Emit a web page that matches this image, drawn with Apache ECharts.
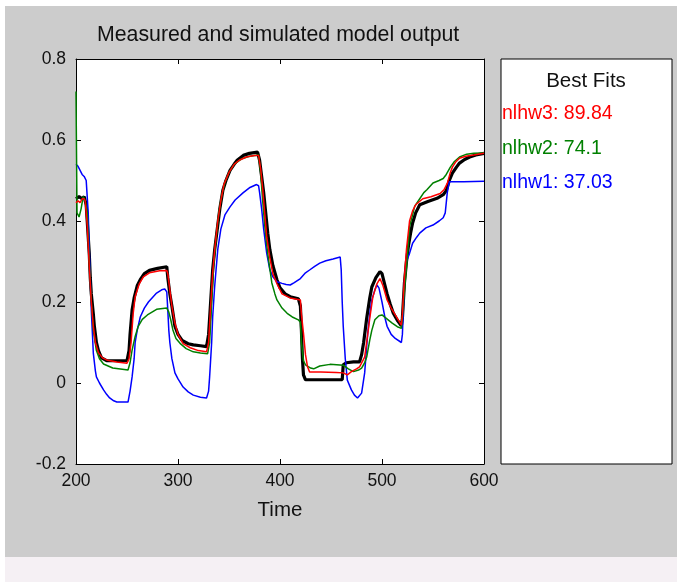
<!DOCTYPE html>
<html>
<head>
<meta charset="utf-8">
<script src="https://cdn.jsdelivr.net/npm/echarts@6/dist/echarts.min.js"></script>
<style>
  html, body { margin: 0; padding: 0; width: 677px; height: 582px; background: #ffffff; overflow: hidden; }
  #gray { position: absolute; left: 5px; top: 6px; width: 672px; height: 551px; background: #cccccc; }
  #pink { position: absolute; left: 5px; top: 557px; width: 672px; height: 25px; background: #f5f0f4; }
  #chart { position: absolute; left: 0; top: 0; width: 677px; height: 582px; }
</style>
</head>
<body>
<div id="gray"></div>
<div id="pink"></div>
<div id="chart"></div>
<script>
// ---- data ----
const titleText = 'Measured and simulated model output';
const xAxisName = 'Time';
const legendTitle = 'Best Fits';
const seriesNames = ['nlhw3: 89.84', 'nlhw2: 74.1', 'nlhw1: 37.03'];
const xTicks = [200, 300, 400, 500, 600];
const yTicks = [-0.2, 0, 0.2, 0.4, 0.6, 0.8];

const measured = [[200,0.455],[203,0.46],[206,0.455],[208,0.46],[210,0.44],[211,0.40],[212,0.36],[213,0.32],[214,0.26],[215,0.22],[217,0.17],[218,0.14],[220,0.10],[222,0.08],[225,0.062],[230,0.055],[240,0.055],[250,0.055],[252,0.08],[253,0.12],[255,0.18],[257,0.21],[260,0.24],[263,0.255],[267,0.27],[272,0.278],[280,0.283],[289,0.287],[290,0.26],[292,0.22],[294,0.19],[297,0.14],[300,0.12],[304,0.105],[310,0.097],[315,0.094],[322,0.092],[328,0.09],[330,0.12],[332,0.2],[334,0.28],[336,0.33],[338,0.37],[341,0.43],[344,0.476],[347,0.50],[351,0.525],[355,0.54],[358,0.55],[364,0.562],[370,0.567],[378,0.57],[380,0.55],[382,0.51],[384,0.47],[386,0.42],[388,0.37],[390,0.33],[393,0.29],[397,0.255],[400,0.235],[405,0.22],[410,0.213],[418,0.208],[420,0.19],[421,0.13],[422,0.06],[423,0.02],[425,0.008],[440,0.008],[461,0.008],[462,0.045],[465,0.05],[472,0.052],[478,0.052],[480,0.07],[482,0.1],[485,0.16],[488,0.21],[490,0.237],[494,0.26],[498,0.275],[500,0.27],[503,0.24],[505,0.22],[508,0.195],[511,0.173],[515,0.155],[519,0.141],[520,0.16],[522,0.247],[524,0.3],[526,0.34],[528,0.37],[530,0.395],[533,0.42],[537,0.44],[545,0.448],[554,0.456],[560,0.465],[563,0.475],[566,0.5],[569,0.518],[573,0.533],[576,0.543],[581,0.552],[586,0.558],[592,0.563],[600,0.567]];

const nlhw3 = [[200,0.445],[202,0.45],[204,0.445],[206,0.455],[208,0.455],[209,0.45],[210,0.42],[211,0.39],[212,0.34],[213,0.29],[215,0.2],[217,0.14],[219,0.1],[222,0.075],[226,0.062],[230,0.057],[240,0.052],[250,0.049],[252,0.06],[254,0.1],[256,0.17],[258,0.213],[262,0.245],[266,0.262],[272,0.272],[282,0.277],[289,0.278],[290,0.27],[292,0.23],[294,0.19],[297,0.148],[300,0.12],[305,0.097],[312,0.087],[320,0.08],[328,0.077],[330,0.1],[332,0.19],[334,0.27],[336,0.33],[339,0.4],[342,0.45],[345,0.49],[350,0.52],[355,0.54],[360,0.55],[367,0.558],[375,0.562],[379,0.562],[381,0.53],[383,0.48],[385,0.42],[387,0.36],[390,0.31],[393,0.27],[397,0.245],[402,0.22],[410,0.21],[420,0.205],[421,0.17],[423,0.123],[425,0.07],[427,0.04],[429,0.027],[440,0.027],[455,0.026],[462,0.025],[466,0.02],[470,0.028],[475,0.035],[478,0.04],[483,0.064],[486,0.12],[488,0.16],[491,0.212],[495,0.245],[498,0.258],[501,0.24],[505,0.205],[509,0.185],[513,0.168],[519,0.143],[520,0.17],[522,0.262],[524,0.33],[527,0.4],[530,0.425],[533,0.44],[540,0.455],[548,0.46],[557,0.468],[561,0.478],[564,0.493],[567,0.52],[569,0.533],[572,0.545],[576,0.555],[582,0.56],[590,0.563],[600,0.567]];

const nlhw2 = [[200,0.72],[201,0.42],[203,0.41],[205,0.43],[207,0.46],[209,0.45],[211,0.42],[212,0.36],[213,0.30],[215,0.2],[217,0.13],[220,0.08],[223,0.06],[227,0.047],[236,0.037],[251,0.032],[253,0.05],[255,0.081],[258,0.115],[261,0.14],[265,0.157],[270,0.168],[279,0.182],[289,0.185],[291,0.175],[293,0.155],[295,0.131],[298,0.11],[302,0.098],[308,0.085],[315,0.077],[322,0.074],[329,0.072],[331,0.1],[333,0.2],[335,0.29],[337,0.35],[340,0.42],[343,0.465],[346,0.495],[350,0.52],[355,0.54],[362,0.553],[370,0.56],[379,0.563],[381,0.52],[383,0.45],[385,0.39],[387,0.34],[389,0.3],[392,0.247],[395,0.22],[397,0.205],[402,0.185],[407,0.172],[412,0.163],[418,0.156],[420,0.15],[421,0.1],[423,0.055],[425,0.045],[430,0.037],[433,0.035],[439,0.042],[449,0.046],[462,0.044],[467,0.035],[472,0.028],[477,0.032],[480,0.037],[483,0.05],[485,0.064],[488,0.106],[490,0.13],[493,0.156],[497,0.166],[500,0.168],[503,0.162],[506,0.156],[510,0.148],[515,0.139],[519,0.135],[520,0.16],[522,0.23],[524,0.287],[526,0.35],[527,0.386],[530,0.415],[532,0.436],[537,0.455],[541,0.47],[544,0.477],[550,0.494],[556,0.5],[560,0.505],[563,0.515],[567,0.533],[571,0.547],[576,0.558],[583,0.565],[590,0.567],[600,0.568]];

const nlhw1 = [[200,0.54],[202,0.535],[204,0.525],[206,0.515],[208,0.51],[210,0.5],[211,0.46],[212,0.42],[213,0.33],[214,0.26],[215,0.18],[217,0.073],[219,0.03],[220,0.015],[223,0.0],[227,-0.017],[230,-0.028],[233,-0.037],[237,-0.044],[240,-0.047],[251,-0.047],[253,-0.02],[255,0.015],[257,0.06],[258,0.1],[260,0.13],[263,0.163],[267,0.185],[271,0.2],[279,0.222],[284,0.23],[287,0.232],[289,0.225],[290,0.18],[291,0.13],[292,0.1],[294,0.06],[297,0.025],[300,0.01],[305,-0.01],[310,-0.022],[315,-0.03],[322,-0.035],[328,-0.037],[330,-0.02],[331,0.015],[333,0.1],[334,0.163],[336,0.24],[339,0.33],[342,0.38],[346,0.415],[351,0.435],[356,0.452],[364,0.47],[370,0.482],[377,0.49],[379,0.487],[380,0.47],[382,0.43],[384,0.38],[387,0.32],[390,0.28],[393,0.262],[397,0.25],[402,0.246],[406,0.243],[410,0.242],[414,0.248],[420,0.258],[425,0.272],[429,0.279],[434,0.288],[439,0.296],[445,0.302],[452,0.306],[459,0.311],[460,0.28],[461,0.2],[462,0.14],[464,0.06],[466,0.007],[470,-0.017],[473,-0.03],[476,-0.037],[480,-0.025],[483,0.025],[486,0.123],[488,0.17],[490,0.205],[493,0.23],[495,0.242],[497,0.235],[500,0.2],[503,0.16],[505,0.14],[509,0.12],[513,0.11],[519,0.1],[520,0.12],[522,0.25],[524,0.3],[527,0.32],[530,0.345],[534,0.36],[537,0.37],[543,0.383],[550,0.39],[556,0.4],[560,0.408],[562,0.42],[564,0.47],[566,0.497],[580,0.497],[600,0.498]];

// ---- chart ----
const FONT = 'Liberation Sans, Arial, sans-serif';
const colors = { measured: '#000000', nlhw3: '#ff0000', nlhw2: '#008000', nlhw1: '#0000ff' };
const chart = echarts.init(document.getElementById('chart'), null, { renderer: 'canvas' });

function yFmt(v) {
  const r = Math.round(v * 10) / 10;
  return r === 0 ? '0' : r.toFixed(1);
}
const axisLineStyle = { show: true, onZero: false, lineStyle: { color: '#000', width: 1 } };
const tickStyle = { show: true, inside: true, length: 5, lineStyle: { color: '#000', width: 1 } };

const option = {
  backgroundColor: 'transparent',
  animation: false,
  title: {
    text: titleText,
    left: 92, top: 19.5,
    padding: 5,
    textStyle: { fontFamily: FONT, fontSize: 21.3, fontWeight: 'normal', color: '#111' }
  },
  grid: { left: 76, top: 59, width: 408, height: 405, show: true, backgroundColor: '#ffffff', borderWidth: 0 },
  legend: {
    orient: 'vertical', left: 492, top: 98, padding: 5,
    icon: 'none', itemWidth: 0, itemHeight: 22, itemGap: 12.5,
    selectedMode: false,
    textStyle: { fontFamily: FONT, fontSize: 19.5, lineHeight: 22 },
    data: [
      { name: seriesNames[0], textStyle: { color: colors.nlhw3 } },
      { name: seriesNames[1], textStyle: { color: colors.nlhw2 } },
      { name: seriesNames[2], textStyle: { color: colors.nlhw1 } }
    ]
  },
  graphic: [
    { type: 'rect', z: -1, shape: { x: 501, y: 59, width: 171, height: 405 },
      style: { fill: '#ffffff', stroke: '#000000', lineWidth: 1 } },
    { type: 'text', x: 586, y: 81, style: { text: legendTitle, fontFamily: FONT, fontSize: 20.5,
      fill: '#111', align: 'center', verticalAlign: 'middle' } }
  ],
  xAxis: [
    { type: 'value', min: xTicks[0], max: xTicks[xTicks.length - 1], interval: 100, position: 'bottom',
      axisLine: axisLineStyle, axisTick: tickStyle, splitLine: { show: false },
      axisLabel: { color: '#111', fontFamily: FONT, fontSize: 17.5, margin: 8 },
      name: xAxisName, nameLocation: 'middle', nameGap: 36,
      nameTextStyle: { color: '#111', fontFamily: FONT, fontSize: 20.5 } },
    { type: 'value', min: xTicks[0], max: xTicks[xTicks.length - 1], interval: 100, position: 'top',
      axisLine: axisLineStyle, axisTick: tickStyle, splitLine: { show: false }, axisLabel: { show: false } }
  ],
  yAxis: [
    { type: 'value', min: yTicks[0], max: yTicks[yTicks.length - 1], interval: 0.2, position: 'left',
      axisLine: axisLineStyle, axisTick: tickStyle, splitLine: { show: false },
      axisLabel: { color: '#111', fontFamily: FONT, fontSize: 17.5, margin: 10, formatter: yFmt } },
    { type: 'value', min: yTicks[0], max: yTicks[yTicks.length - 1], interval: 0.2, position: 'right',
      axisLine: axisLineStyle, axisTick: tickStyle, splitLine: { show: false }, axisLabel: { show: false } }
  ],
  series: [
    { name: 'Measured', type: 'line', data: measured, showSymbol: false, symbol: 'none',
      lineStyle: { color: colors.measured, width: 3.2 }, itemStyle: { color: colors.measured }, z: 2 },
    { name: seriesNames[2], type: 'line', data: nlhw1, showSymbol: false, symbol: 'none',
      lineStyle: { color: colors.nlhw1, width: 1.5 }, itemStyle: { color: colors.nlhw1 }, z: 3 },
    { name: seriesNames[1], type: 'line', data: nlhw2, showSymbol: false, symbol: 'none',
      lineStyle: { color: colors.nlhw2, width: 1.5 }, itemStyle: { color: colors.nlhw2 }, z: 4 },
    { name: seriesNames[0], type: 'line', data: nlhw3, showSymbol: false, symbol: 'none',
      lineStyle: { color: colors.nlhw3, width: 1.5 }, itemStyle: { color: colors.nlhw3 }, z: 5 }
  ]
};
chart.setOption(option);
</script>
</body>
</html>
